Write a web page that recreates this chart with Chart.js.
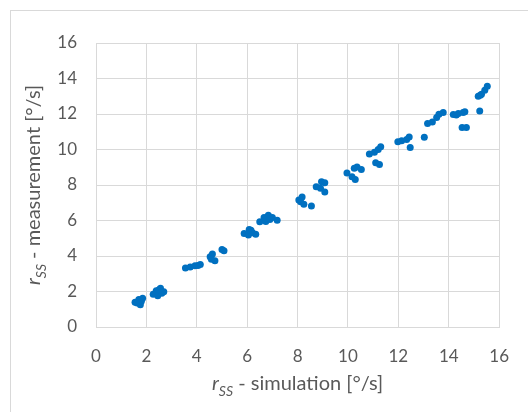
<!DOCTYPE html>
<html>
<head>
<meta charset="utf-8">
<script src="https://cdn.jsdelivr.net/npm/chart.js@4/dist/chart.umd.min.js"></script>
<style>
  html, body { margin: 0; padding: 0; background: #ffffff; }
  #wrap { width: 528px; height: 412px; position: relative; }
</style>
</head>
<body>
<div id="wrap"><canvas id="c" width="528" height="412"></canvas></div>
<script>
// r_SS - simulation [°/s]
const simulation = [
  1.55, 1.70, 1.85, 1.76, 1.63, 1.80,
  2.27, 2.39, 2.56, 2.69, 2.45, 2.61, 2.50,
  3.55, 3.74, 3.93, 4.14, 4.05,
  4.53, 4.62, 4.72, 4.58,
  5.00, 5.08,
  5.88, 6.08, 6.21, 6.05, 6.34, 6.15,
  6.50, 6.67, 6.84, 7.00, 7.19, 6.74, 6.90,
  8.05, 8.18, 8.25, 8.55, 8.12,
  8.74, 8.95, 9.08, 8.91, 9.08,
  9.96, 10.16, 10.36, 10.29, 10.53, 10.25,
  10.85, 11.05, 11.20, 11.30, 11.10, 11.25,
  11.98, 12.13, 12.33, 12.43, 12.47,
  13.03,
  13.16, 13.35, 13.52, 13.61, 13.78,
  14.18, 14.38, 14.57, 14.64, 14.30,
  14.53, 14.70,
  15.23,
  15.17, 15.30, 15.43, 15.53, 15.25
];
// r_SS - measurement [°/s]
const measurement = [
  1.40, 1.55, 1.62, 1.26, 1.35, 1.45,
  1.84, 2.04, 2.18, 1.99, 1.76, 1.90, 2.10,
  3.32, 3.38, 3.45, 3.52, 3.47,
  3.96, 4.11, 3.73, 3.82,
  4.37, 4.29,
  5.27, 5.50, 5.31, 5.18, 5.23, 5.45,
  5.93, 6.17, 6.30, 6.17, 6.02, 5.95, 6.05,
  7.15, 7.33, 6.92, 6.81, 7.05,
  7.90, 8.18, 8.12, 7.81, 7.61,
  8.68, 8.46, 9.02, 8.31, 8.87, 8.95,
  9.75, 9.85, 10.00, 10.15, 9.25, 9.15,
  10.43, 10.49, 10.56, 10.71, 10.11,
  10.69,
  11.46, 11.55, 11.80, 11.99, 12.08,
  11.97, 12.03, 12.08, 12.12, 11.95,
  11.24, 11.24,
  12.17,
  13.00, 13.11, 13.34, 13.56, 13.05
];
const axisMin = 0;
const axisMax = 16;
const axisStep = 2;
const xTitleParts = [["r", "italic"], ["SS", "sub"], [" - simulation [°/s]", "normal"]];
const yTitleParts = [["r", "italic"], ["SS", "sub"], [" - measurement [°/s]", "normal"]];

const points = simulation.map((x, i) => ({ x: x, y: measurement[i] }));

const FONT = "Lato, 'Open Sans', sans-serif";
const TXT = "#595959";
const GRID = "#D9D9D9";

function drawRich(ctx, parts, size) {
  const segs = parts.map(([t, kind]) => {
    let f;
    if (kind === "italic") f = "italic " + size + "px " + FONT;
    else if (kind === "sub") f = "italic " + Math.round(size * 0.72) + "px " + FONT;
    else f = size + "px " + FONT;
    ctx.font = f;
    return { t, kind, f, w: ctx.measureText(t).width };
  });
  const total = segs.reduce((a, s) => a + s.w, 0);
  let x = -total / 2;
  for (const s of segs) {
    ctx.font = s.f;
    ctx.fillText(s.t, x, s.kind === "sub" ? size * 0.28 : 0);
    x += s.w;
  }
}

const decor = {
  id: "decor",
  beforeDraw(chart) {
    const ctx = chart.ctx;
    ctx.save();
    ctx.strokeStyle = GRID;
    ctx.lineWidth = 1;
    ctx.strokeRect(10.5, 10.5, 700, 700);
    ctx.restore();
  },
  afterDraw(chart) {
    const ctx = chart.ctx;
    const a = chart.chartArea;
    ctx.save();
    ctx.fillStyle = TXT;
    ctx.textBaseline = "alphabetic";
    ctx.textAlign = "left";
    ctx.translate((a.left + a.right) / 2, 390);
    drawRich(ctx, xTitleParts, 20);
    ctx.restore();
    ctx.save();
    ctx.fillStyle = TXT;
    ctx.textBaseline = "alphabetic";
    ctx.textAlign = "left";
    ctx.translate(40, (a.top + a.bottom) / 2);
    ctx.rotate(-Math.PI / 2);
    drawRich(ctx, yTitleParts, 20);
    ctx.restore();
  }
};

new Chart(document.getElementById("c"), {
  type: "scatter",
  data: {
    datasets: [{
      data: points,
      backgroundColor: "#0070C0",
      borderColor: "#0070C0",
      borderWidth: 0,
      pointRadius: 3.5,
      pointHoverRadius: 3.5
    }]
  },
  options: {
    responsive: false,
    animation: false,
    layout: { padding: { left: 0, top: 43, right: 27, bottom: 0 } },
    plugins: { legend: { display: false }, tooltip: { enabled: false } },
    scales: {
      x: {
        type: "linear",
        min: axisMin, max: axisMax,
        ticks: { stepSize: axisStep, color: TXT, font: { family: FONT, size: 17 }, padding: 19, maxRotation: 0 },
        grid: { color: GRID, lineWidth: 1, drawTicks: false },
        border: { color: GRID },
        afterFit(s) { s.height = 85; }
      },
      y: {
        type: "linear",
        min: axisMin, max: axisMax,
        ticks: { stepSize: axisStep, color: TXT, font: { family: FONT, size: 17 }, padding: 19 },
        grid: { color: GRID, lineWidth: 1, drawTicks: false },
        border: { color: GRID },
        afterFit(s) { s.width = 96; }
      }
    }
  },
  plugins: [decor]
});
</script>
</body>
</html>
